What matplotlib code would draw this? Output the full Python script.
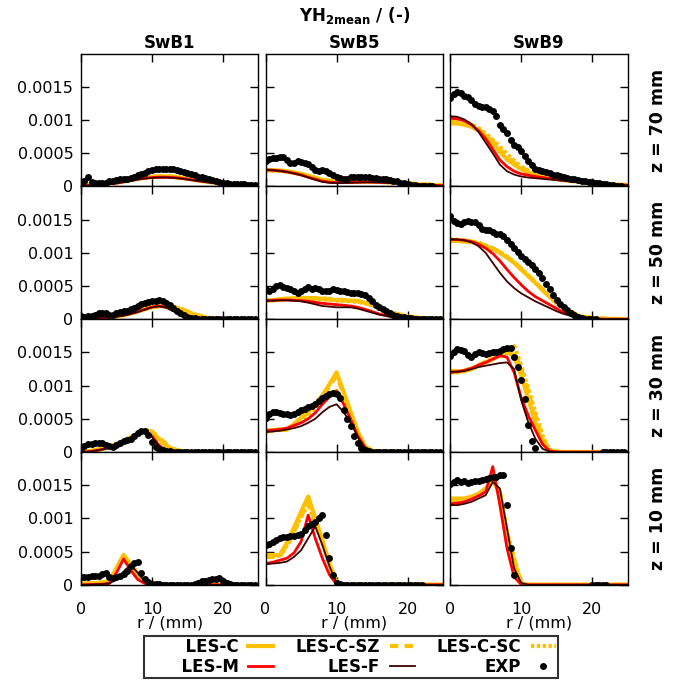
import numpy as np
import matplotlib
matplotlib.use("Agg")
import matplotlib.pyplot as plt

nan = float("nan")

# values in units of 1e-4 (YH2 mean mass fraction)
R_LES = [0, 1, 2, 3, 4, 5, 6, 7, 8, 9, 10, 11, 12, 13, 14, 15, 16, 18, 20, 22, 25]
R_EXP = [0, 0.5, 1, 1.5, 2, 2.5, 3, 3.5, 4, 4.5, 5, 5.5, 6, 6.5, 7, 7.5, 8, 8.5, 9, 9.5,
         10, 10.5, 11, 11.5, 12, 12.5, 13, 13.5, 14, 14.5, 15, 15.5, 16, 16.5, 17, 17.5,
         18, 18.5, 19, 19.5, 20, 20.5, 21, 21.5, 22, 22.5, 23, 23.5, 24, 24.5]

FLAMES = ["SwB1", "SwB5", "SwB9"]
HEIGHTS = ["z = 70 mm", "z = 50 mm", "z = 30 mm", "z = 10 mm"]
SERIES = ["LES-C", "LES-C-SZ", "LES-C-SC", "LES-M", "LES-F"]

# --- z = 70 mm ---
Z70_SWB1_C = [0.2, 0.3, 0.35, 0.4, 0.5, 0.6, 0.8, 1.0, 1.2, 1.35, 1.45, 1.5, 1.5, 1.45, 1.35, 1.2, 1.0, 0.7, 0.45, 0.3, 0.15]
Z70_SWB1_SZ = [0.2, 0.3, 0.35, 0.45, 0.55, 0.65, 0.85, 1.05, 1.25, 1.4, 1.5, 1.55, 1.55, 1.5, 1.4, 1.25, 1.05, 0.72, 0.47, 0.3, 0.15]
Z70_SWB1_SC = [0.15, 0.25, 0.3, 0.4, 0.5, 0.6, 0.75, 0.95, 1.15, 1.3, 1.4, 1.45, 1.45, 1.4, 1.3, 1.15, 0.95, 0.68, 0.44, 0.28, 0.14]
Z70_SWB1_M = [0.1, 0.15, 0.2, 0.3, 0.4, 0.5, 0.7, 0.9, 1.1, 1.25, 1.35, 1.4, 1.4, 1.35, 1.25, 1.1, 0.95, 0.65, 0.4, 0.25, 0.12]
Z70_SWB1_F = [0.1, 0.15, 0.2, 0.3, 0.4, 0.5, 0.65, 0.85, 1.05, 1.2, 1.3, 1.35, 1.35, 1.3, 1.2, 1.05, 0.9, 0.6, 0.38, 0.22, 0.1]
Z70_SWB1_EXP = [0.5, 0.8, 1.4, 0.7, 0.6, 0.5, 0.5, 0.6, 0.8, 0.9,
                1.0, 1.1, 1.2, 1.2, 1.3, 1.5, 1.7, 1.9, 2.1, 2.3,
                2.5, 2.6, 2.6, 2.7, 2.7, 2.6, 2.6, 2.5, 2.4, 2.2,
                2.1, 1.9, 1.7, 1.5, 1.4, 1.25, 1.1, 1.0, 0.85, 0.7,
                0.6, 0.5, 0.45, 0.4, 0.35, 0.3, 0.3, 0.25, 0.25, 0.2]

Z70_SWB5_C = [2.5, 2.45, 2.4, 2.3, 2.1, 1.9, 1.6, 1.3, 1.0, 0.85, 0.75, 0.7, 0.7, 0.75, 0.75, 0.75, 0.7, 0.6, 0.45, 0.3, 0.15]
Z70_SWB5_SZ = [2.5, 2.45, 2.4, 2.3, 2.1, 1.9, 1.6, 1.3, 1.0, 0.85, 0.75, 0.7, 0.72, 0.75, 0.78, 0.78, 0.72, 0.62, 0.48, 0.32, 0.15]
Z70_SWB5_SC = [2.4, 2.4, 2.35, 2.25, 2.05, 1.85, 1.55, 1.25, 0.95, 0.8, 0.7, 0.68, 0.7, 0.72, 0.75, 0.75, 0.7, 0.6, 0.45, 0.3, 0.15]
Z70_SWB5_M = [2.5, 2.45, 2.35, 2.2, 2.0, 1.75, 1.4, 1.1, 0.8, 0.65, 0.6, 0.6, 0.62, 0.65, 0.68, 0.68, 0.65, 0.55, 0.4, 0.25, 0.12]
Z70_SWB5_F = [2.5, 2.45, 2.35, 2.2, 1.95, 1.7, 1.35, 1.0, 0.7, 0.55, 0.5, 0.52, 0.55, 0.6, 0.62, 0.62, 0.6, 0.5, 0.38, 0.24, 0.1]
Z70_SWB5_EXP = [3.9, 4.1, 4.3, 4.3, 4.5, 4.4, 4.0, 3.5, 3.6, 3.8,
                3.7, 3.6, 3.4, 3.0, 2.5, 2.4, 2.5, 2.4, 2.0, 1.7,
                1.5, 1.3, 1.2, 1.2, 1.4, 1.5, 1.5, 1.4, 1.4, 1.4,
                1.3, 1.3, 1.2, 1.2, 1.1, 1.0, 0.9, 0.8, 0.6, 0.5,
                0.35, 0.25, 0.15, 0.1, 0.05, 0.0, 0.0, 0.0, nan, nan]

Z70_SWB9_C = [9.5, 9.5, 9.3, 9.0, 8.4, 7.6, 6.5, 5.2, 4.1, 3.3, 2.6, 2.1, 1.8, 1.5, 1.3, 1.1, 0.95, 0.7, 0.5, 0.35, 0.2]
Z70_SWB9_SZ = [9.8, 9.8, 9.6, 9.2, 8.6, 7.8, 6.8, 5.6, 4.5, 3.6, 2.9, 2.3, 1.9, 1.6, 1.35, 1.15, 1.0, 0.72, 0.5, 0.35, 0.2]
Z70_SWB9_SC = [10.0, 10.0, 9.8, 9.4, 8.8, 8.0, 7.0, 6.0, 4.9, 3.9, 3.0, 2.4, 2.0, 1.7, 1.4, 1.2, 1.0, 0.75, 0.52, 0.36, 0.2]
Z70_SWB9_M = [10.3, 10.2, 9.9, 9.3, 8.4, 7.2, 5.6, 4.0, 3.0, 2.3, 1.9, 1.7, 1.5, 1.35, 1.2, 1.05, 0.95, 0.7, 0.5, 0.35, 0.2]
Z70_SWB9_F = [10.6, 10.5, 10.1, 9.4, 8.2, 6.6, 5.0, 3.3, 2.3, 1.8, 1.5, 1.35, 1.25, 1.15, 1.05, 0.95, 0.85, 0.65, 0.45, 0.32, 0.18]
Z70_SWB9_EXP = [13.3, 13.9, 14.3, 14.1, 13.7, 13.5, 13.0, 12.5, 12.2, 12.0,
                11.9, 11.6, 11.3, 10.6, 9.3, 8.6, 8.0, 7.0, 6.3, 5.9,
                5.4, 4.6, 3.9, 3.2, 2.7, 2.5, 2.4, 2.2, 2.0, 1.8,
                1.7, 1.55, 1.4, 1.3, 1.2, 1.1, 1.0, 0.9, 0.8, 0.75,
                0.7, 0.6, 0.5, 0.4, 0.3, 0.2, 0.15, 0.1, 0.1, nan]

# --- z = 50 mm ---
Z50_SWB1_C = [0.1, 0.15, 0.2, 0.25, 0.3, 0.45, 0.65, 0.9, 1.2, 1.55, 1.85, 2.0, 2.0, 1.85, 1.55, 1.15, 0.7, 0.15, 0.05, 0.02, 0.0]
Z50_SWB1_SZ = [0.1, 0.15, 0.2, 0.25, 0.3, 0.45, 0.65, 0.9, 1.2, 1.55, 1.85, 2.0, 2.05, 1.9, 1.6, 1.2, 0.75, 0.2, 0.05, 0.02, 0.0]
Z50_SWB1_SC = [0.1, 0.15, 0.2, 0.25, 0.3, 0.45, 0.62, 0.88, 1.18, 1.52, 1.82, 1.97, 1.97, 1.82, 1.5, 1.1, 0.68, 0.15, 0.05, 0.02, 0.0]
Z50_SWB1_M = [0.1, 0.15, 0.2, 0.25, 0.3, 0.45, 0.6, 0.85, 1.15, 1.5, 1.85, 2.0, 1.8, 1.3, 0.7, 0.3, 0.1, 0.02, 0.0, 0.0, 0.0]
Z50_SWB1_F = [0.1, 0.15, 0.2, 0.25, 0.3, 0.4, 0.55, 0.8, 1.1, 1.45, 1.8, 1.95, 1.75, 1.25, 0.65, 0.25, 0.08, 0.02, 0.0, 0.0, 0.0]
Z50_SWB1_EXP = [0.5, 0.4, 0.5, 0.5, 0.7, 0.9, 1.0, 0.9, 0.7, 0.7,
                0.9, 1.1, 1.2, 1.3, 1.5, 1.7, 2.0, 2.3, 2.4, 2.6,
                2.7, 2.8, 2.9, 2.8, 2.5, 2.1, 1.7, 1.3, 0.9, 0.6,
                0.4, 0.25, 0.15, 0.1, 0.05, 0.05, 0, 0, 0, 0,
                0, 0, 0, 0, 0, 0, 0, 0, 0, 0]

Z50_SWB5_C = [2.8, 2.9, 3.0, 3.1, 3.15, 3.2, 3.2, 3.15, 3.1, 3.0, 2.9, 2.85, 2.8, 2.7, 2.5, 2.15, 1.7, 0.9, 0.4, 0.15, 0.05]
Z50_SWB5_SZ = [2.8, 2.9, 3.0, 3.1, 3.15, 3.2, 3.2, 3.2, 3.15, 3.05, 3.0, 2.9, 2.85, 2.75, 2.55, 2.2, 1.75, 0.95, 0.42, 0.15, 0.05]
Z50_SWB5_SC = [2.8, 2.85, 2.95, 3.05, 3.1, 3.1, 3.1, 3.05, 3.0, 2.9, 2.8, 2.75, 2.7, 2.6, 2.4, 2.05, 1.65, 0.85, 0.38, 0.13, 0.04]
Z50_SWB5_M = [2.8, 2.85, 2.9, 2.9, 2.85, 2.8, 2.7, 2.55, 2.4, 2.3, 2.2, 2.1, 2.0, 1.8, 1.5, 1.15, 0.8, 0.3, 0.1, 0.03, 0.0]
Z50_SWB5_F = [2.8, 2.8, 2.85, 2.85, 2.8, 2.7, 2.5, 2.25, 2.0, 1.9, 1.8, 1.8, 1.8, 1.6, 1.3, 1.0, 0.7, 0.3, 0.1, 0.03, 0.0]
Z50_SWB5_EXP = [4.5, 4.2, 4.6, 5.0, 5.2, 4.9, 4.7, 4.5, 4.3, 4.0,
                4.2, 4.6, 4.8, 4.6, 4.7, 4.6, 4.3, 4.2, 4.3, 4.5,
                4.4, 4.3, 4.3, 4.1, 4.0, 4.0, 3.9, 3.8, 3.6, 3.2,
                2.7, 2.2, 1.8, 1.5, 1.2, 0.9, 0.7, 0.5, 0.4, 0.3,
                0.2, 0.15, 0.1, 0.05, 0, 0, 0, 0, 0, 0]

Z50_SWB9_C = [11.8, 11.8, 11.7, 11.6, 11.4, 11.0, 10.6, 10.0, 9.3, 8.5, 7.5, 6.5, 5.5, 4.4, 3.4, 2.4, 1.7, 0.5, 0.15, 0.05, 0.02]
Z50_SWB9_SZ = [11.9, 11.9, 11.8, 11.7, 11.5, 11.1, 10.7, 10.1, 9.4, 8.6, 7.6, 6.6, 5.6, 4.5, 3.5, 2.5, 1.8, 0.55, 0.15, 0.05, 0.02]
Z50_SWB9_SC = [12.0, 12.0, 11.9, 11.7, 11.5, 11.1, 10.7, 10.1, 9.4, 8.6, 7.6, 6.6, 5.5, 4.4, 3.4, 2.4, 1.7, 0.5, 0.15, 0.05, 0.02]
Z50_SWB9_M = [12.0, 12.0, 11.9, 11.7, 11.3, 10.7, 9.9, 8.8, 7.5, 6.3, 5.2, 4.2, 3.4, 2.8, 2.2, 1.6, 1.0, 0.3, 0.08, 0.02, 0.0]
Z50_SWB9_F = [12.1, 12.0, 11.9, 11.6, 11.0, 10.0, 8.5, 7.0, 5.7, 4.7, 3.9, 3.3, 2.7, 2.2, 1.7, 1.2, 0.8, 0.2, 0.05, 0.02, 0.0]
Z50_SWB9_EXP = [15.6, 14.8, 14.5, 14.3, 14.6, 14.8, 14.7, 14.6, 14.2, 13.6,
                13.4, 13.5, 13.2, 12.9, 12.8, 12.5, 12.0, 11.3, 10.8, 10.2,
                9.6, 9.1, 8.6, 8.1, 7.5, 6.9, 6.2, 5.3, 4.5, 3.6,
                2.9, 2.3, 1.8, 1.4, 1.0, 0.7, 0.4, 0.2, 0.1, 0.05,
                0, 0, nan, nan, nan, nan, nan, nan, nan, nan]

# --- z = 30 mm ---
Z30_SWB1_C = [0.0, 0.1, 0.3, 0.5, 0.8, 1.2, 1.7, 2.2, 2.8, 3.3, 3.0, 2.0, 1.0, 0.4, 0.1, 0.0, 0.0, 0.0, 0.0, 0.0, 0.0]
Z30_SWB1_SZ = [0.0, 0.1, 0.3, 0.5, 0.8, 1.2, 1.7, 2.2, 2.8, 3.3, 3.1, 2.2, 1.2, 0.5, 0.15, 0.02, 0.0, 0.0, 0.0, 0.0, 0.0]
Z30_SWB1_SC = [0.0, 0.1, 0.3, 0.5, 0.8, 1.2, 1.7, 2.2, 2.7, 3.2, 2.8, 1.8, 0.9, 0.3, 0.1, 0.0, 0.0, 0.0, 0.0, 0.0, 0.0]
Z30_SWB1_M = [0.0, 0.05, 0.2, 0.4, 0.7, 1.0, 1.5, 2.0, 2.6, 3.1, 2.4, 1.0, 0.2, 0.02, 0.0, 0.0, 0.0, 0.0, 0.0, 0.0, 0.0]
Z30_SWB1_F = [0.0, 0.05, 0.2, 0.4, 0.6, 0.9, 1.4, 1.9, 2.5, 3.0, 2.3, 0.9, 0.2, 0.02, 0.0, 0.0, 0.0, 0.0, 0.0, 0.0, 0.0]
Z30_SWB1_EXP = [0.5, 0.9, 1.2, 1.2, 1.3, 1.3, 1.3, 1.1, 0.9, 0.8,
                1.0, 1.4, 1.6, 1.8, 2.0, 2.4, 2.9, 3.2, 3.2, 2.6,
                1.5, 0.8, 0.4, 0.25, 0.15, 0.1, 0.05, 0, 0, 0,
                0, 0, 0, 0, 0, 0, 0, 0, 0, 0,
                0, 0, 0, 0, 0, 0, 0, 0, 0, 0]

Z30_SWB5_C = [3.2, 3.3, 3.4, 3.4, 4.2, 5.2, 6.2, 7.3, 8.5, 10.2, 12.0, 9.0, 6.0, 3.0, 0.8, 0.2, 0.05, 0.0, 0.0, 0.0, 0.0]
Z30_SWB5_SZ = [3.1, 3.2, 3.3, 3.4, 4.1, 5.0, 6.0, 7.1, 8.3, 9.9, 11.5, 8.7, 5.8, 2.9, 0.8, 0.2, 0.05, 0.0, 0.0, 0.0, 0.0]
Z30_SWB5_SC = [3.2, 3.3, 3.4, 3.5, 4.0, 4.8, 5.6, 6.6, 7.6, 8.5, 9.2, 7.8, 5.5, 2.8, 0.8, 0.2, 0.05, 0.0, 0.0, 0.0, 0.0]
Z30_SWB5_M = [3.2, 3.3, 3.4, 3.6, 4.0, 4.4, 5.0, 5.9, 7.2, 8.3, 9.2, 7.2, 4.9, 2.4, 0.7, 0.1, 0.0, 0.0, 0.0, 0.0, 0.0]
Z30_SWB5_F = [3.0, 3.1, 3.2, 3.4, 3.6, 3.9, 4.4, 5.0, 6.0, 6.8, 7.2, 6.0, 4.4, 2.2, 0.6, 0.1, 0.0, 0.0, 0.0, 0.0, 0.0]
Z30_SWB5_EXP = [5.2, 5.8, 6.0, 6.0, 5.9, 5.8, 5.7, 5.6, 5.8, 6.0,
                6.3, 6.5, 6.8, 7.0, 7.3, 7.7, 8.1, 8.4, 8.7, 8.9,
                8.8, 8.2, 6.4, 5.0, 3.9, 2.4, 1.3, 0.6, 0.3, 0.15,
                0.05, 0, 0, 0, 0, 0, 0, 0, 0, 0,
                0, 0, 0, 0, 0, 0, 0, 0, 0, 0]

Z30_SWB9_C = [12.1, 12.1, 12.2, 12.5, 13.0, 13.5, 14.0, 14.5, 15.0, 14.5, 11.5, 8.0, 4.5, 1.5, 0.2, 0.05, 0.0, 0.0, 0.0, 0.0, 0.0]
Z30_SWB9_SZ = [12.2, 12.2, 12.3, 12.6, 13.1, 13.6, 14.1, 14.6, 15.2, 15.2, 12.5, 9.0, 5.5, 2.0, 0.3, 0.05, 0.0, 0.0, 0.0, 0.0, 0.0]
Z30_SWB9_SC = [12.0, 12.0, 12.2, 12.5, 13.0, 13.6, 14.2, 14.8, 15.4, 16.0, 13.0, 9.5, 6.0, 2.5, 0.3, 0.05, 0.0, 0.0, 0.0, 0.0, 0.0]
Z30_SWB9_M = [12.0, 12.1, 12.3, 12.6, 13.1, 13.5, 14.0, 14.5, 14.3, 12.0, 8.2, 5.5, 3.3, 1.2, 0.15, 0.02, 0.0, 0.0, 0.0, 0.0, 0.0]
Z30_SWB9_F = [12.1, 12.1, 12.2, 12.5, 12.8, 13.0, 13.2, 13.4, 13.5, 12.5, 7.8, 4.5, 2.0, 0.5, 0.05, 0.0, 0.0, 0.0, 0.0, 0.0, 0.0]
Z30_SWB9_EXP = [14.5, 15.0, 15.5, 15.4, 15.2, 14.6, 14.3, 14.8, 15.0, 14.9,
                14.8, 14.9, 15.0, 15.0, 15.2, 15.5, 15.6, 15.6, 14.3, 12.8,
                10.8, 8.0, 4.0, 1.7, 0.6, nan, nan, nan, nan, nan,
                nan, nan, nan, nan, nan, nan, nan, nan, nan, nan,
                nan, nan, nan, 0, 0, 0, 0, 0, 0, 0]

# --- z = 10 mm ---
Z10_SWB1_C = [0.15, 0.2, 0.25, 0.35, 0.6, 2.5, 4.5, 3.1, 1.7, 0.8, 0.2, 0.0, 0.0, 0.0, 0.0, 0.0, 0.0, 0.0, 0.0, 0.0, 0.0]
Z10_SWB1_SZ = [0.15, 0.2, 0.25, 0.35, 0.55, 2.4, 4.3, 3.0, 1.6, 0.7, 0.2, 0.0, 0.0, 0.0, 0.0, 0.0, 0.0, 0.0, 0.0, 0.0, 0.0]
Z10_SWB1_SC = [0.12, 0.18, 0.24, 0.33, 0.5, 2.3, 4.2, 2.9, 1.5, 0.65, 0.2, 0.0, 0.0, 0.0, 0.0, 0.0, 0.0, 0.0, 0.0, 0.0, 0.0]
Z10_SWB1_M = [0.0, 0.02, 0.05, 0.1, 0.2, 1.8, 3.9, 2.2, 0.8, 0.2, 0.03, 0.0, 0.0, 0.0, 0.0, 0.0, 0.0, 0.0, 0.0, 0.0, 0.0]
Z10_SWB1_F = [0.0, 0.02, 0.05, 0.1, 0.2, 0.8, 2.0, 3.0, 1.8, 0.5, 0.1, 0.0, 0.0, 0.0, 0.0, 0.0, 0.0, 0.0, 0.0, 0.0, 0.0]
Z10_SWB1_EXP = [1.1, 1.2, 1.2, 1.3, 1.35, 1.4, 1.6, 1.75, 1.2, 1.0,
                1.2, 1.4, 1.7, 2.1, 2.8, 3.3, 3.5, 1.8, 0.8, 0.35,
                0.15, 0.1, 0.05, 0, 0, 0, 0, 0, 0, 0,
                0, 0, 0.1, 0.3, 0.5, 0.6, 0.7, 0.8, 0.9, 1.0,
                0.6, 0.3, 0.1, 0, 0, 0, 0, 0, 0, 0]

Z10_SWB5_C = [4.5, 4.5, 4.5, 6.3, 8.6, 11.0, 13.3, 10.0, 6.7, 3.0, 0.15, 0.0, 0.0, 0.0, 0.0, 0.0, 0.0, 0.0, 0.0, 0.0, 0.0]
Z10_SWB5_SZ = [4.2, 4.2, 4.3, 5.8, 8.0, 10.3, 12.6, 9.5, 6.5, 3.2, 0.3, 0.0, 0.0, 0.0, 0.0, 0.0, 0.0, 0.0, 0.0, 0.0, 0.0]
Z10_SWB5_SC = [4.3, 4.3, 4.4, 5.9, 8.1, 10.2, 12.2, 9.5, 6.5, 3.2, 0.3, 0.0, 0.0, 0.0, 0.0, 0.0, 0.0, 0.0, 0.0, 0.0, 0.0]
Z10_SWB5_M = [3.2, 3.4, 3.7, 4.0, 4.8, 6.5, 10.5, 7.0, 4.0, 1.5, 0.1, 0.0, 0.0, 0.0, 0.0, 0.0, 0.0, 0.0, 0.0, 0.0, 0.0]
Z10_SWB5_F = [3.1, 3.2, 3.3, 3.5, 4.2, 5.2, 7.0, 8.8, 6.0, 2.8, 0.3, 0.0, 0.0, 0.0, 0.0, 0.0, 0.0, 0.0, 0.0, 0.0, 0.0]
Z10_SWB5_EXP = [6.0, 6.2, 6.5, 6.8, 7.0, 7.2, 7.2, 7.3, 7.4, 7.5,
                7.6, 8.3, 8.8, 9.1, 9.5, 10.0, 10.5, 7.5, 4.0, 1.5,
                0.3, 0.1, 0, 0, 0, 0, 0, 0, 0, 0,
                0, 0, 0, 0, 0, 0, 0, 0, 0, 0,
                0, 0, 0, 0, 0, nan, nan, nan, nan, nan]

Z10_SWB9_C = [13.0, 13.0, 13.0, 13.3, 13.7, 14.5, 15.8, 13.8, 7.5, 3.5, 0.15, 0.0, 0.0, 0.0, 0.0, 0.0, 0.0, 0.0, 0.0, 0.0, 0.0]
Z10_SWB9_SZ = [12.7, 12.7, 12.8, 13.1, 13.6, 14.4, 15.6, 13.8, 7.8, 3.8, 0.2, 0.0, 0.0, 0.0, 0.0, 0.0, 0.0, 0.0, 0.0, 0.0, 0.0]
Z10_SWB9_SC = [12.8, 12.8, 12.9, 13.2, 13.7, 14.5, 15.6, 14.0, 8.0, 4.0, 0.2, 0.0, 0.0, 0.0, 0.0, 0.0, 0.0, 0.0, 0.0, 0.0, 0.0]
Z10_SWB9_M = [12.2, 12.3, 12.5, 12.9, 13.4, 14.0, 17.8, 12.0, 5.5, 1.2, 0.05, 0.0, 0.0, 0.0, 0.0, 0.0, 0.0, 0.0, 0.0, 0.0, 0.0]
Z10_SWB9_F = [12.0, 12.0, 12.2, 12.5, 13.0, 13.5, 15.5, 14.5, 8.5, 2.5, 0.3, 0.0, 0.0, 0.0, 0.0, 0.0, 0.0, 0.0, 0.0, 0.0, 0.0]
Z10_SWB9_EXP = [15.2, 15.5, 15.8, 15.5, 15.6, 15.4, 15.5, 15.7, 15.6, 15.8,
                16.0, 16.1, 16.2, 16.3, 16.5, 16.6, 12.0, 5.6, 1.5, nan,
                nan, nan, nan, nan, nan, nan, nan, nan, nan, nan,
                nan, nan, nan, nan, nan, nan, nan, nan, nan, nan,
                0, 0, 0, 0, 0, nan, nan, nan, nan, nan]

# grid of panels: rows = heights, columns = flames
PANELS = [
    [(Z70_SWB1_C, Z70_SWB1_SZ, Z70_SWB1_SC, Z70_SWB1_M, Z70_SWB1_F, Z70_SWB1_EXP),
     (Z70_SWB5_C, Z70_SWB5_SZ, Z70_SWB5_SC, Z70_SWB5_M, Z70_SWB5_F, Z70_SWB5_EXP),
     (Z70_SWB9_C, Z70_SWB9_SZ, Z70_SWB9_SC, Z70_SWB9_M, Z70_SWB9_F, Z70_SWB9_EXP)],
    [(Z50_SWB1_C, Z50_SWB1_SZ, Z50_SWB1_SC, Z50_SWB1_M, Z50_SWB1_F, Z50_SWB1_EXP),
     (Z50_SWB5_C, Z50_SWB5_SZ, Z50_SWB5_SC, Z50_SWB5_M, Z50_SWB5_F, Z50_SWB5_EXP),
     (Z50_SWB9_C, Z50_SWB9_SZ, Z50_SWB9_SC, Z50_SWB9_M, Z50_SWB9_F, Z50_SWB9_EXP)],
    [(Z30_SWB1_C, Z30_SWB1_SZ, Z30_SWB1_SC, Z30_SWB1_M, Z30_SWB1_F, Z30_SWB1_EXP),
     (Z30_SWB5_C, Z30_SWB5_SZ, Z30_SWB5_SC, Z30_SWB5_M, Z30_SWB5_F, Z30_SWB5_EXP),
     (Z30_SWB9_C, Z30_SWB9_SZ, Z30_SWB9_SC, Z30_SWB9_M, Z30_SWB9_F, Z30_SWB9_EXP)],
    [(Z10_SWB1_C, Z10_SWB1_SZ, Z10_SWB1_SC, Z10_SWB1_M, Z10_SWB1_F, Z10_SWB1_EXP),
     (Z10_SWB5_C, Z10_SWB5_SZ, Z10_SWB5_SC, Z10_SWB5_M, Z10_SWB5_F, Z10_SWB5_EXP),
     (Z10_SWB9_C, Z10_SWB9_SZ, Z10_SWB9_SC, Z10_SWB9_M, Z10_SWB9_F, Z10_SWB9_EXP)],
]

ORANGE = '#FFC000'
# (color, linewidth, linestyle) per LES series, same order as SERIES
LES_STYLES = [
    (ORANGE, 3.0, '-'),
    (ORANGE, 3.0, (0, (2.0, 1.5))),
    (ORANGE, 3.0, (0, (0.8, 0.6))),
    ('#FF0000', 2.0, '-'),
    ('#3F0000', 1.3, '-'),
]

SCALE = 1e-4

fig, axes = plt.subplots(4, 3, figsize=(6.86, 6.80), dpi=100, sharex=True, sharey=True)
fig.subplots_adjust(left=0.118, right=0.915, top=0.921, bottom=0.140, wspace=0.04, hspace=0)

for i in range(4):
    for j in range(3):
        ax = axes[i, j]
        curves = PANELS[i][j]
        for k, name in enumerate(SERIES):
            color, lw, ls = LES_STYLES[k]
            ax.plot(R_LES, np.array(curves[k]) * SCALE, color=color, linewidth=lw,
                    linestyle=ls, label=name, zorder=2 + k * 0.1)
        ax.plot(R_EXP, np.array(curves[5]) * SCALE, linestyle='none', marker='o',
                markersize=5, color='black', markeredgewidth=0, label='EXP', zorder=3)
        ax.set_xlim(0, 25)
        ax.set_ylim(0, 0.002)
        ax.set_xticks([0, 10, 20])
        ax.set_yticks([0, 0.0005, 0.001, 0.0015])
        ax.set_yticklabels(['0', '0.0005', '0.001', '0.0015'])
        ax.tick_params(direction='in', top=True, right=True, length=5.5, width=1,
                       labelsize=11.5)
        ax.tick_params(axis='x', pad=12.5)
        ax.tick_params(axis='y', pad=5.5)
        for spine in ax.spines.values():
            spine.set_linewidth(1.0)
        if i == 0:
            ax.set_title(FLAMES[j], fontweight='bold', fontsize=12, pad=4)
        if i == 3:
            ax.set_xlabel('r / (mm)', fontsize=11.5, labelpad=-1)
        if j == 2:
            ax.text(1.17, 0.5, HEIGHTS[i], transform=ax.transAxes, rotation=90,
                    ha='center', va='center', fontweight='bold', fontsize=12.5)

fig.text(0.517, 0.977, r'YH$_{\mathbf{2mean}}$ / (-)', ha='center', va='center',
         fontweight='bold', fontsize=12)

handles, labels = axes[0, 0].get_legend_handles_labels()
order = [0, 3, 1, 4, 2, 5]
leg_labels = [labels[k] for k in order]
# first legend column is padded so all three columns get the same width
leg_labels[0] = '      ' + leg_labels[0]
leg_labels[1] = '      ' + leg_labels[1]
leg = fig.legend([handles[k] for k in order], leg_labels,
                 loc='lower center', bbox_to_anchor=(0.512, 0.0), ncol=3,
                 markerfirst=False, frameon=True, fancybox=False, edgecolor='black',
                 prop={'weight': 'bold', 'size': 12}, handlelength=1.5,
                 columnspacing=1.3, handletextpad=0.6, borderpad=0.15,
                 labelspacing=0.1, borderaxespad=0.1)
leg.get_frame().set_linewidth(1.5)

fig.savefig('out.png', dpi=100)
